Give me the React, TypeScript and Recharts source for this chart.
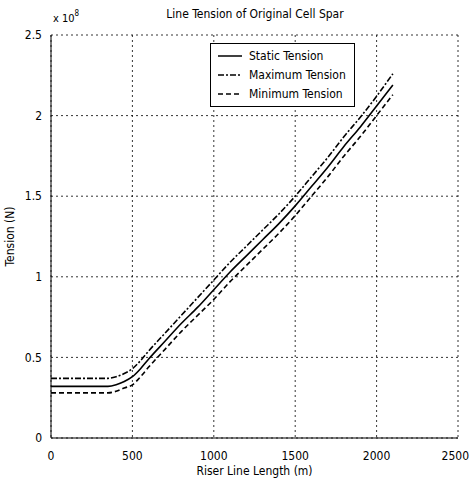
import React from 'react';
import {
  LineChart,
  Line,
  XAxis,
  YAxis,
  CartesianGrid,
} from 'recharts';

// riser line length (m)
const lengths = [0, 350, 400, 450, 500, 550, 600, 700, 800, 900, 1000, 1100, 1200, 1300, 1400, 1500, 1600, 1700, 1800, 1900, 2000, 2100];
// tension, units of 1e8 N
const staticTension = [0.32, 0.32, 0.33, 0.35, 0.38, 0.43, 0.49, 0.6, 0.71, 0.81, 0.92, 1.03, 1.13, 1.23, 1.33, 1.44, 1.56, 1.68, 1.81, 1.93, 2.06, 2.19];
const maxTension = [0.37, 0.37, 0.38, 0.4, 0.43, 0.48, 0.54, 0.65, 0.76, 0.87, 0.98, 1.09, 1.19, 1.29, 1.39, 1.5, 1.62, 1.74, 1.87, 1.99, 2.12, 2.26];
const minTension = [0.28, 0.28, 0.29, 0.31, 0.33, 0.38, 0.44, 0.55, 0.66, 0.76, 0.86, 0.97, 1.07, 1.17, 1.27, 1.38, 1.5, 1.62, 1.75, 1.87, 2.0, 2.13];

const xTicks = [0, 500, 1000, 1500, 2000, 2500];
const yTicks = [0, 0.5, 1, 1.5, 2, 2.5];

const seriesDefs = [
  { key: 'static', name: 'Static Tension', dash: undefined as string | undefined },
  { key: 'max', name: 'Maximum Tension', dash: '6 2 2 2' },
  { key: 'min', name: 'Minimum Tension', dash: '5 3' },
];

const FONT = '"Liberation Sans Narrow", "DejaVu Sans Condensed", Arial, sans-serif';

const data = lengths.map((x, i) => ({
  x,
  static: staticTension[i],
  max: maxTension[i],
  min: minTension[i],
}));

// last x label is pushed against the right edge like in the original
function XTick(props: any) {
  const { x, y, payload } = props;
  const last = payload.value === xTicks[xTicks.length - 1];
  return (
    <text
      x={last ? 469 : x}
      y={y + 12}
      textAnchor={last ? 'end' : 'middle'}
      fontSize={12}
      fontFamily={FONT}
      fill="#000"
    >
      {payload.value}
    </text>
  );
}

// matlab-style legend box, placed over the plot
function LegendBox() {
  return (
    <div
      style={{
        position: 'absolute',
        left: 210,
        top: 43,
        border: '1px solid #000',
        background: '#fff',
        padding: '2px 8px 3px 0',
        fontFamily: FONT,
        fontSize: 12,
        color: '#000',
        whiteSpace: 'nowrap',
      }}
    >
      {seriesDefs.map((s) => (
        <div key={s.key} style={{ display: 'flex', alignItems: 'center', height: 19 }}>
          <svg width={26} height={10} style={{ marginLeft: 6, marginRight: 6 }}>
            <line x1={1} y1={5} x2={25} y2={5} stroke="#000" strokeWidth={1.5} strokeDasharray={s.dash} />
          </svg>
          <span>{s.name}</span>
        </div>
      ))}
    </div>
  );
}

export default function App() {
  return (
    <div style={{ position: 'absolute', left: 0, top: 0, width: 470, height: 483, background: '#fff' }}>
      <LineChart
        width={470}
        height={483}
        data={data}
        margin={{ top: 35, right: 12, bottom: 0, left: 0 }}
      >
        <CartesianGrid stroke="#000" strokeDasharray="2 3" strokeWidth={0.8} />
        <XAxis
          dataKey="x"
          type="number"
          domain={[0, 2500]}
          ticks={xTicks}
          height={45}
          axisLine={{ stroke: '#000' }}
          tickLine={false}
          tick={<XTick />}
          tickMargin={4}
          label={{ value: 'Riser Line Length (m)', position: 'insideBottom', offset: 8, fill: '#000', fontSize: 12, fontFamily: FONT }}
        />
        <XAxis
          xAxisId="top"
          orientation="top"
          dataKey="x"
          type="number"
          domain={[0, 2500]}
          ticks={xTicks}
          height={0}
          axisLine={{ stroke: '#000' }}
          tickLine={false}
          tick={false}
        />
        <YAxis
          type="number"
          domain={[0, 2.5]}
          ticks={yTicks}
          width={51}
          axisLine={{ stroke: '#000' }}
          tickLine={false}
          tick={{ fill: '#000', fontSize: 12, fontFamily: FONT }}
          tickMargin={3}
          label={{ value: 'Tension (N)', angle: -90, position: 'insideLeft', offset: 10, fill: '#000', fontSize: 12, fontFamily: FONT, style: { textAnchor: 'middle' } }}
        />
        <YAxis
          yAxisId="right"
          orientation="right"
          type="number"
          domain={[0, 2.5]}
          width={0}
          axisLine={{ stroke: '#000' }}
          tickLine={false}
          tick={false}
        />
        {seriesDefs.map((s) => (
          <Line
            key={s.key}
            dataKey={s.key}
            name={s.name}
            type="monotone"
            stroke="#000"
            strokeWidth={1.6}
            strokeDasharray={s.dash}
            dot={false}
            isAnimationActive={false}
          />
        ))}
        <text x={255} y={18} textAnchor="middle" fontSize={12} fontFamily={FONT} fill="#000">
          Line Tension of Original Cell Spar
        </text>
        <text x={53} y={22} fontSize={11} fontFamily={FONT} fill="#000">
          x 10
          <tspan dy={-6} fontSize={8}>8</tspan>
        </text>
      </LineChart>
      <LegendBox />
    </div>
  );
}
